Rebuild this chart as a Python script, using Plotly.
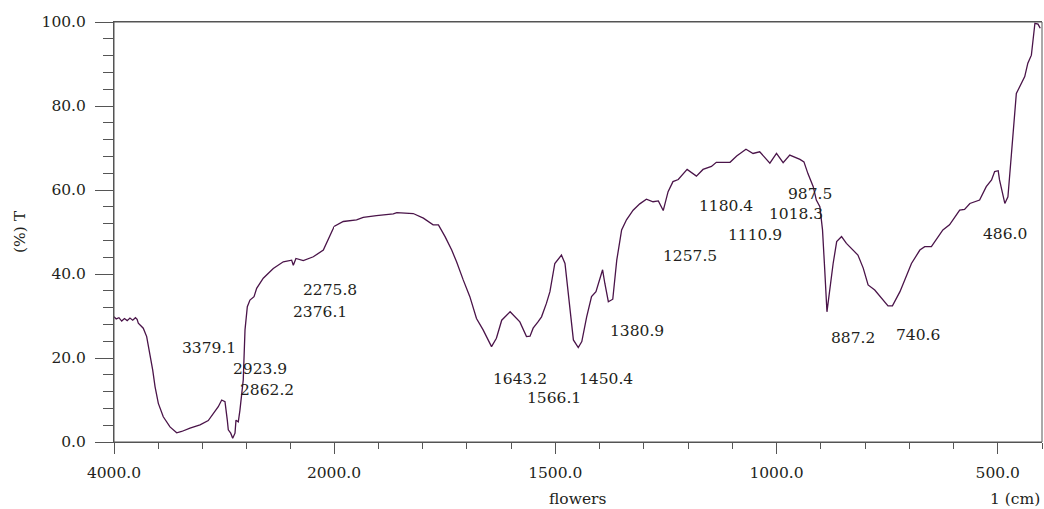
import plotly.graph_objects as go

# ---- data ----
wavenumber = [4000, 3980, 3955, 3930, 3905, 3880, 3855, 3830, 3805, 3790, 3779, 3734, 3703, 3673,
              3648, 3627, 3597, 3552, 3491, 3430, 3385, 3309, 3218, 3143, 3097, 3052, 3021, 2991,
              2970, 2961, 2939, 2921, 2900, 2891, 2870, 2855, 2825, 2809, 2788, 2764, 2727, 2703,
              2643, 2552, 2461, 2385, 2370, 2346, 2279, 2188, 2097, 2052, 2006, 2000,
              1979, 1949, 1934, 1904, 1866, 1858, 1821, 1798, 1776, 1764, 1749, 1734, 1723, 1708,
              1693, 1678, 1663, 1644, 1633, 1621, 1602, 1580, 1565, 1557, 1550, 1539, 1531, 1520,
              1512, 1501, 1486, 1478, 1471, 1459, 1448, 1440, 1429, 1418, 1408, 1393, 1388, 1380,
              1370, 1361, 1350, 1339, 1324, 1309, 1294, 1279, 1267, 1256, 1245, 1234, 1222, 1202,
              1181, 1166, 1147, 1136, 1105, 1090, 1069, 1053, 1038, 1015, 1000, 985, 970, 947,
              938, 929, 917, 910, 902, 896, 891, 886, 872, 864, 853, 842, 816, 804, 793, 778,
              748, 738, 721, 695, 676, 665, 650, 624, 609, 586, 575, 563, 541, 526, 514, 507,
              499, 496, 484, 477, 469, 458, 439, 432, 424, 416, 409, 404]
transmittance = [29.8, 29.3, 29.6, 28.8, 29.4, 28.9, 29.5, 29.0, 29.6, 29.2, 28.3, 27.1, 25.1, 21.1,
                 17.1, 13.2, 9.2, 6.0, 3.6, 2.2, 2.5, 3.3, 4.1, 5.1, 6.8, 8.4, 10.0, 9.6,
                 5.2, 2.9, 2.1, 0.9, 2.1, 5.2, 4.8, 7.6, 14.8, 26.7, 32.2, 33.8, 34.6, 36.6,
                 39.0, 41.3, 42.9, 43.3, 42.1, 43.7, 43.2, 44.1, 45.7, 48.1, 50.9, 51.3,
                 52.5, 52.9, 53.5, 53.9, 54.3, 54.6, 54.4, 53.3, 51.7, 51.7, 48.9, 45.7, 42.9, 38.6,
                 34.6, 29.4, 26.7, 22.7, 24.7, 29.0, 31.0, 28.6, 25.1, 25.2, 27.1, 28.6, 29.8, 33.0,
                 35.8, 42.5, 44.5, 42.5, 35.4, 24.3, 22.5, 23.9, 29.8, 34.6, 35.8, 41.0, 37.8, 33.4,
                 34.0, 43.3, 50.5, 52.9, 55.2, 56.7, 57.8, 57.2, 57.4, 55.1, 59.6, 62.0, 62.5, 64.9,
                 63.3, 64.9, 65.6, 66.6, 66.6, 68.1, 69.7, 68.7, 69.1, 66.4, 68.7, 66.5, 68.3, 67.3,
                 66.7, 63.9, 60.8, 57.6, 56.0, 50.5, 41.0, 31.0, 42.5, 47.7, 48.9, 47.3, 44.5, 41.4, 37.4, 36.2,
                 32.4, 32.4, 35.8, 42.5, 45.7, 46.5, 46.5, 50.5, 51.7, 55.2, 55.4, 56.8, 57.6, 60.8, 62.4, 64.4,
                 64.6, 62.4, 56.8, 58.4, 68.7, 83.0, 87.0, 90.2, 92.1, 99.7, 99.5, 98.5]

peak_labels = ["3379.1", "2923.9", "2862.2", "2275.8", "2376.1", "1643.2", "1566.1", "1450.4",
               "1380.9", "1257.5", "1180.4", "1110.9", "1018.3", "987.5", "887.2", "740.6", "486.0"]

y_ticks = [0, 20, 40, 60, 80, 100]
x_ticks_high = [4000]
x_ticks_low = [2000, 1500, 1000, 500]

# ---- layout-only placement of the peak labels (axis coordinates) ----
label_x = [3136, 2677, 2609, 2032, 2125, 1579, 1502, 1386,
           1316, 1196, 1115, 1048, 956, 925, 827, 681, 484]
label_y = [22.4, 17.4, 12.5, 36.1, 31.0, 15.1, 10.4, 15.1,
           26.4, 44.3, 56.1, 49.3, 54.2, 59.0, 24.8, 25.5, 49.5]

BREAK = 2000
LINE = "#4a1449"
INK = "#231f20"
AX = "#555555"
FONT = "DejaVu Serif"
FS = 15.5

hi_x = [w for w in wavenumber if w >= BREAK]
hi_y = [t for w, t in zip(wavenumber, transmittance) if w >= BREAK]
lo_x = [w for w in wavenumber if w <= BREAK]
lo_y = [t for w, t in zip(wavenumber, transmittance) if w <= BREAK]

fig = go.Figure()
fig.add_trace(go.Scatter(x=hi_x, y=hi_y, mode="lines", xaxis="x", yaxis="y",
                         line=dict(color=LINE, width=1.3), showlegend=False))
fig.add_trace(go.Scatter(x=lo_x, y=lo_y, mode="lines", xaxis="x2", yaxis="y",
                         line=dict(color=LINE, width=1.3), showlegend=False))

split = 220 / 928

common_x = dict(showgrid=False, zeroline=False, showline=True, linecolor=AX, linewidth=1,
                mirror=True, ticks="outside", ticklen=11, tickcolor=AX, tickwidth=1,
                ticklabelstandoff=5,
                tickfont=dict(family=FONT, size=FS, color=INK), anchor="y")

fig.update_layout(
    width=1044, height=509,
    margin=dict(l=114, r=2, t=22, b=67),
    paper_bgcolor="white", plot_bgcolor="white",
    font=dict(family=FONT, size=FS, color=INK),
    xaxis=dict(domain=[0, split], range=[4000, BREAK], tickmode="array",
               tickvals=x_ticks_high, ticktext=[f"{v:.1f}" for v in x_ticks_high],
               minor=dict(dtick=400, tick0=0, ticklen=6, ticks="outside", tickcolor=AX),
               **common_x),
    xaxis2=dict(domain=[split, 1], range=[BREAK, 400], tickmode="array",
                tickvals=x_ticks_low, ticktext=[f"{v:.1f}" for v in x_ticks_low],
                minor=dict(dtick=100, tick0=0, ticklen=6, ticks="outside", tickcolor=AX),
                **common_x),
    yaxis=dict(domain=[0, 1], range=[0, 100], anchor="x", showgrid=False, zeroline=False,
               showline=True, linecolor=AX, linewidth=1, ticks="outside", ticklen=18,
               tickcolor=AX, tickwidth=1, tickmode="array", tickvals=y_ticks,
               ticktext=[f"{v:.1f}" for v in y_ticks], ticklabelstandoff=6,
               minor=dict(dtick=4, tick0=0, ticklen=10, ticks="outside", tickcolor=AX),
               tickfont=dict(family=FONT, size=FS, color=INK),
               title=dict(text="(%) T", standoff=12, font=dict(family=FONT, size=FS, color=INK))),
    shapes=[dict(type="rect", xref="paper", yref="paper", x0=0, x1=1, y0=0, y1=1,
                 line=dict(color=AX, width=1), layer="above")],
)

for txt, lx, ly in zip(peak_labels, label_x, label_y):
    fig.add_annotation(text=txt, x=lx, y=ly, xref="x" if lx >= BREAK else "x2", yref="y",
                       showarrow=False, xanchor="center", yanchor="middle",
                       font=dict(family=FONT, size=FS, color=INK))

fig.add_annotation(text="flowers", x=0.5, y=-0.136, xref="paper", yref="paper",
                   showarrow=False, xanchor="center", yanchor="middle",
                   font=dict(family=FONT, size=FS, color=INK))
fig.add_annotation(text="1 (cm)", x=1, y=-0.136, xref="paper", yref="paper",
                   showarrow=False, xanchor="right", yanchor="middle",
                   font=dict(family=FONT, size=FS, color=INK))

fig.write_html("out.html", config={"displayModeBar": False},
               post_script="document.body.style.margin='0';document.body.style.overflow='hidden';")
